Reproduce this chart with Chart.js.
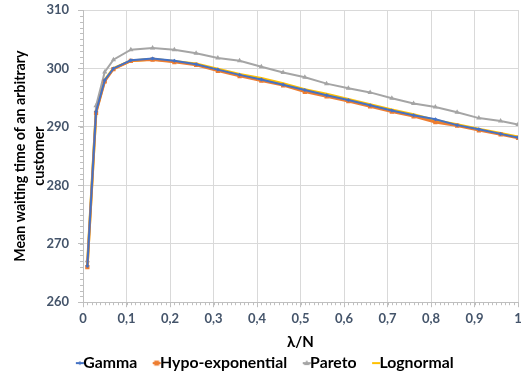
<!DOCTYPE html>
<html>
<head>
<meta charset="utf-8">
<script src="https://cdn.jsdelivr.net/npm/chart.js@4"></script>
<style>
  html, body { margin: 0; background: #fff; }
</style>
</head>
<body>
<canvas id="chart" width="525" height="378"></canvas>
<script>
// -------------------------------
// Data
// -------------------------------
const lambdaN = [0.01, 0.03, 0.05, 0.07, 0.11, 0.16, 0.21, 0.26, 0.31, 0.36, 0.41, 0.46,
                 0.51, 0.56, 0.61, 0.66, 0.71, 0.76, 0.81, 0.86, 0.91, 0.96, 1.0];
const gamma     = [266.2, 292.6, 298.0, 300.0, 301.4, 301.7, 301.3, 300.7, 299.8, 298.9, 298.1, 297.2,
                   296.3, 295.4, 294.6, 293.7, 292.8, 292.0, 291.3, 290.3, 289.6, 288.8, 288.2];
const hypoExp   = [266.0, 292.4, 297.8, 299.9, 301.3, 301.5, 301.1, 300.6, 299.6, 298.7, 297.9, 297.1,
                   296.0, 295.2, 294.4, 293.5, 292.6, 291.8, 290.8, 290.2, 289.4, 288.7, 288.1];
const pareto    = [267.1, 293.6, 299.4, 301.5, 303.2, 303.5, 303.2, 302.6, 301.8, 301.3, 300.3, 299.3,
                   298.5, 297.4, 296.6, 295.9, 294.9, 294.0, 293.4, 292.5, 291.5, 291.0, 290.4];
const lognormal = [266.3, 292.6, 298.0, 300.0, 301.3, 301.6, 301.2, 300.8, 299.9, 299.0, 298.3, 297.4,
                   296.4, 295.6, 294.7, 293.8, 292.9, 292.1, 291.1, 290.4, 289.6, 288.9, 288.3];

const seriesNames = ['Gamma', 'Hypo-exponential', 'Pareto', 'Lognormal'];
const colors = ['#4472C4', '#ED7D31', '#A5A5A5', '#FFC000'];

const FONT = 'Lato, "Open Sans", sans-serif';
const toPoints = ys => ys.map((v, i) => ({ x: lambdaN[i], y: v }));

// legend icon: short line with the marker in the middle,
// drawn in the right part of a wider canvas so it sits close to the text
function legendIcon(color, style) {
    const c = document.createElement('canvas');
    c.width = 30; c.height = 10;
    const g = c.getContext('2d');
    g.strokeStyle = color; g.fillStyle = color; g.lineWidth = 2;
    g.beginPath(); g.moveTo(21, 5); g.lineTo(29, 5); g.stroke();
    if (style === 'rect') g.fillRect(22.5, 2.5, 5, 5);
    if (style === 'tri') { g.beginPath(); g.moveTo(25, 2); g.lineTo(28, 7); g.lineTo(22, 7); g.closePath(); g.fill(); }
    if (style === 'diamond') { g.beginPath(); g.moveTo(25, 3); g.lineTo(27, 5); g.lineTo(25, 7); g.lineTo(23, 5); g.closePath(); g.fill(); }
    return c;
}
const icons = [legendIcon(colors[0], 'diamond'), legendIcon(colors[1], 'rect'),
               legendIcon(colors[2], 'tri'), legendIcon(colors[3], 'none')];

// minor tick marks like the spreadsheet axes
const minorTicks = {
    id: 'minorTicks',
    afterDraw(chart) {
        const { ctx, chartArea: a } = chart;
        const x = chart.scales.x, y = chart.scales.y;
        ctx.save();
        ctx.strokeStyle = '#bfbfbf';
        ctx.lineWidth = 1;
        ctx.beginPath();
        for (let i = 0; i <= 100; i++) {
            const px = Math.round(x.getPixelForValue(i / 100)) + 0.5;
            ctx.moveTo(px, a.bottom); ctx.lineTo(px, a.bottom + 3);
        }
        for (let v = 260; v <= 310; v++) {
            const py = Math.round(y.getPixelForValue(v)) + 0.5;
            ctx.moveTo(a.left - 3, py); ctx.lineTo(a.left, py);
        }
        ctx.stroke();
        ctx.restore();
    }
};

const ds = (i, data, style, radius, width) => ({
    label: seriesNames[i],
    data: toPoints(data),
    borderColor: colors[i],
    backgroundColor: colors[i],
    borderWidth: width,
    pointStyle: style,
    pointRadius: radius,
    pointBorderWidth: 0,
    tension: 0
});

new Chart(document.getElementById('chart'), {
    type: 'line',
    data: {
        datasets: [
            ds(0, gamma, 'rectRot', 2, 2),
            ds(1, hypoExp, 'rect', 3, 2.5),
            ds(2, pareto, 'triangle', 3, 2),
            ds(3, lognormal, false, 0, 2.75)
        ]
    },
    plugins: [minorTicks],
    options: {
        responsive: false,
        animation: false,
        layout: { padding: { top: 10, right: 7, left: 0, bottom: -3 } },
        plugins: {
            tooltip: { enabled: false },
            legend: {
                position: 'bottom',
                labels: {
                    usePointStyle: true,
                    pointStyleWidth: 11,
                    boxHeight: 10,
                    padding: 4,
                    color: '#000',
                    font: { family: FONT, size: 15.8, weight: 'bold', lineHeight: 0.8 },
                    generateLabels(chart) {
                        const items = Chart.defaults.plugins.legend.labels.generateLabels(chart);
                        items.forEach((it, i) => { it.pointStyle = icons[i]; });
                        return items;
                    }
                }
            }
        },
        scales: {
            x: {
                type: 'linear',
                min: 0, max: 1,
                afterFit(s) { s.height = 49; s.paddingLeft = 0; s.paddingRight = 0; },
                grid: { color: '#d9d9d9', tickLength: 5, tickColor: '#bfbfbf' },
                border: { color: '#bfbfbf' },
                ticks: {
                    stepSize: 0.1,
                    maxRotation: 0,
                    padding: 4,
                    color: '#44546A',
                    font: { family: FONT, size: 13, weight: 'bold' },
                    callback: v => (v === 0 || v === 1) ? String(v) : v.toFixed(1).replace('.', ',')
                },
                title: {
                    display: true,
                    text: 'λ/N',
                    color: '#000',
                    padding: { top: 2, bottom: 0 },
                    font: { family: FONT, size: 15, weight: 'bold', lineHeight: 1.2 }
                }
            },
            y: {
                min: 260, max: 310,
                afterFit(s) { s.width = 83; s.paddingTop = 0; s.paddingBottom = 0; },
                grid: { color: '#d9d9d9', tickLength: 5, tickColor: '#bfbfbf' },
                border: { color: '#bfbfbf' },
                ticks: {
                    stepSize: 10,
                    padding: 9,
                    color: '#44546A',
                    font: { family: FONT, size: 13, weight: 'bold' }
                },
                title: {
                    display: true,
                    text: ['Mean waiting time of an arbitrary', 'customer'],
                    color: '#000',
                    padding: { top: 10, bottom: 0 },
                    font: { family: FONT, size: 14.2, weight: 'bold', lineHeight: 1.4 }
                }
            }
        }
    }
});
</script>
</body>
</html>
